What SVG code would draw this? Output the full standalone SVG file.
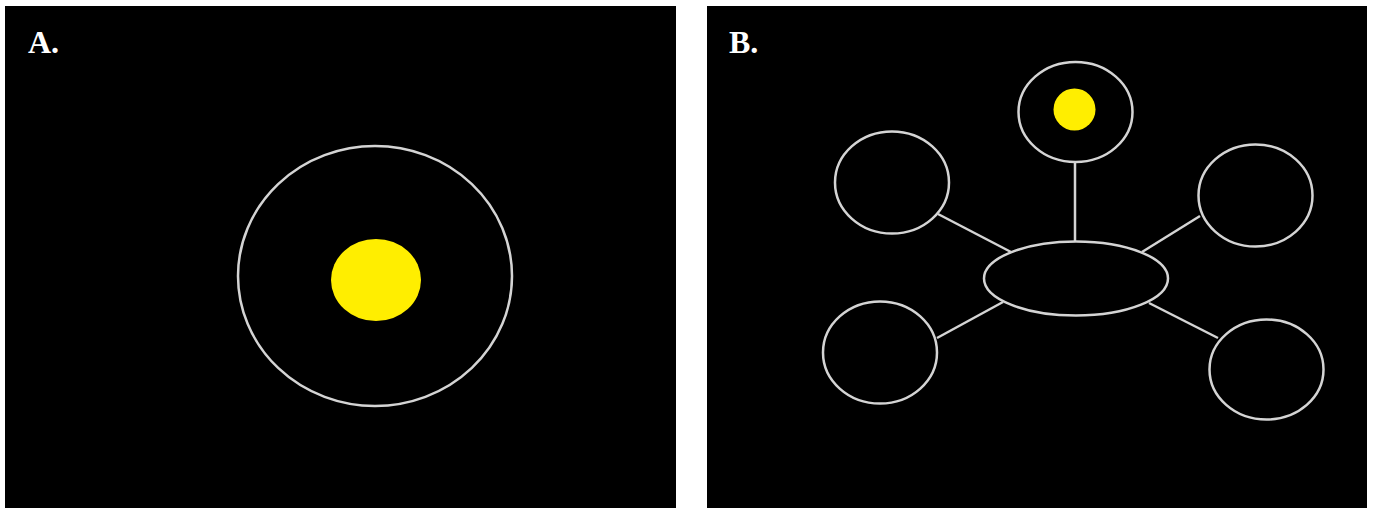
<svg xmlns="http://www.w3.org/2000/svg" width="1373" height="508" viewBox="0 0 1373 508">
<style>
.panel{fill:#000}
.node{fill:none;stroke:#d4d4d4;stroke-width:2.5}
.sun{fill:#ffee00;stroke:none}
.lbl{font-family:"Liberation Serif",serif;font-weight:bold;font-size:32px;fill:#fff}
#connectors line{stroke:#d4d4d4;stroke-width:2.5}
</style>
<rect width="1373" height="508" fill="#fff"/>
<g id="panelA">
<rect class="panel" x="5" y="6" width="671" height="502"/>
<text class="lbl" x="28" y="53">A.</text>
<g id="a-orbit"><ellipse class="node" cx="375" cy="276" rx="137" ry="130"/></g>
<g id="a-sun"><ellipse class="sun" cx="376" cy="280" rx="45" ry="41"/></g>
</g>
<g id="panelB">
<rect class="panel" x="707" y="6" width="660" height="502"/>
<text class="lbl" x="729" y="53">B.</text>
<g id="connectors">
<line x1="1075" y1="162" x2="1075" y2="242"/>
<line x1="938" y1="214" x2="1011" y2="252"/>
<line x1="1200" y1="216" x2="1142" y2="252"/>
<line x1="1003" y1="302" x2="937" y2="338"/>
<line x1="1149" y1="303" x2="1218" y2="338"/>
</g>
<g id="b-top"><ellipse class="node" cx="1075.5" cy="112" rx="57" ry="50"/><circle class="sun" cx="1074.5" cy="109.5" r="21"/></g>
<g id="b-upper-left"><ellipse class="node" cx="892" cy="182.5" rx="57" ry="51"/></g>
<g id="b-upper-right"><ellipse class="node" cx="1255.5" cy="195.5" rx="57" ry="51"/></g>
<g id="b-center"><ellipse class="node" cx="1076" cy="278.5" rx="92" ry="37"/></g>
<g id="b-lower-left"><ellipse class="node" cx="880" cy="352.5" rx="57" ry="51"/></g>
<g id="b-lower-right"><ellipse class="node" cx="1266.5" cy="369.5" rx="57" ry="50"/></g>
</g>
</svg>
